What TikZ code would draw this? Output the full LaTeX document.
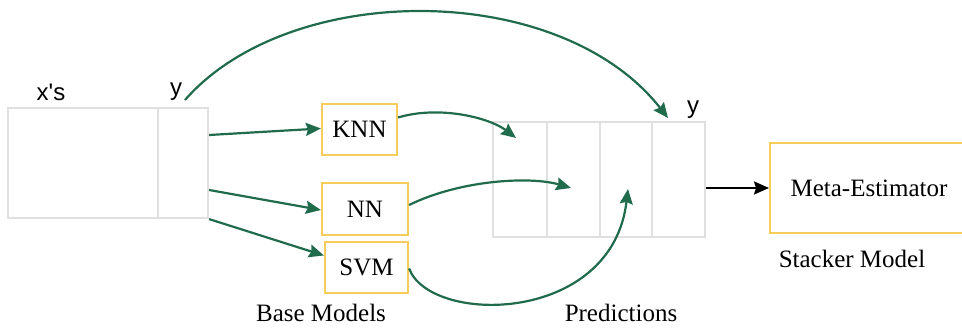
\documentclass[tikz,border=0pt]{standalone}
\usepackage{fontspec}
\setmainfont{Liberation Serif}
\newfontfamily\labsans{Liberation Sans}
\usetikzlibrary{arrows.meta}
\definecolor{grn}{HTML}{1F6B4C}
\definecolor{gold}{HTML}{F6CD5A}
\definecolor{lgray}{HTML}{E0E0E0}
\tikzset{
  cell/.style={draw=lgray, line width=2.2pt, inner sep=0pt},
  model/.style={draw=gold, line width=2.2pt, inner sep=0pt, font=\fontsize{25}{28}\selectfont},
  captext/.style={inner sep=0pt, font=\fontsize{25}{28}\selectfont},
  sanslab/.style={inner sep=0pt, font=\labsans\fontsize{24}{27}\selectfont},
  garrow/.style={draw=grn, line width=2.2pt, -{Stealth[length=15pt,width=13pt,inset=2pt]}},
  barrow/.style={draw=black, line width=2.2pt, -{Stealth[length=15pt,width=13pt,inset=2pt]}}
}
\begin{document}
\begin{tikzpicture}[x=1pt,y=-1pt]
\useasboundingbox (0,0) rectangle (962,328);
% input table
\node[cell, minimum width=150pt, minimum height=110pt] (xs) at (83,163) {};
\node[cell, minimum width=50pt, minimum height=110pt] (yb) at (183,163) {};
\node[sanslab] (xlab) at (51,92) {x's};
\node[sanslab] (ylab) at (176,92) {y};
% base models
\node[model, minimum width=75pt, minimum height=51pt] (knn) at (359.5,129.5) {KNN};
\node[model, minimum width=86pt, minimum height=52pt] (nn) at (365,209) {NN};
\node[model, minimum width=83pt, minimum height=51pt] (svm) at (366.5,267.5) {SVM};
\node[captext] (base) at (321,313) {Base Models};
% predictions
\node[cell, minimum width=54pt, minimum height=115pt] (p1) at (520,179.5) {};
\node[cell, minimum width=53pt, minimum height=115pt] (p2) at (573.5,179.5) {};
\node[cell, minimum width=52pt, minimum height=115pt] (p3) at (626,179.5) {};
\node[cell, minimum width=53pt, minimum height=115pt] (p4) at (678.5,179.5) {};
\node[sanslab] (ylab2) at (693,110) {y};
\node[captext] (pred) at (621,313) {Predictions};
% meta estimator
\node[model, minimum width=200pt, minimum height=90pt, anchor=west] (meta) at (769,188) {};
\node[captext] (metatxt) at (869,188) {Meta-Estimator};
\node[captext] (stack) at (852,259) {Stacker Model};
% coordinates
\coordinate (ystart) at (185,100);
\coordinate (ytip) at (668,118);
\coordinate (t1) at (516,138);
\coordinate (t2) at (571,188);
\coordinate (t3) at (628,189);
% arrows
\draw[garrow] (ystart) .. controls (290,-20) and (560,-20) .. (ytip);
\draw[garrow] ([yshift=28pt]yb.east) -- ([yshift=1pt]knn.west);
\draw[garrow] ([yshift=-27pt]yb.east) -- ([yshift=-1pt]nn.west);
\draw[garrow] (yb.south east) -- ([yshift=12pt]svm.west);
\draw[garrow] ([yshift=12pt]knn.east) .. controls (440,105) and (490,118) .. (t1);
\draw[garrow] ([yshift=4pt]nn.east) .. controls (460,180) and (530,176) .. (t2);
\draw[garrow] ([yshift=-1pt]svm.east) .. controls (430,325) and (612,325) .. (t3);
\draw[barrow] ([yshift=-8.5pt]p4.east) -- (meta.west);
\end{tikzpicture}
\end{document}
